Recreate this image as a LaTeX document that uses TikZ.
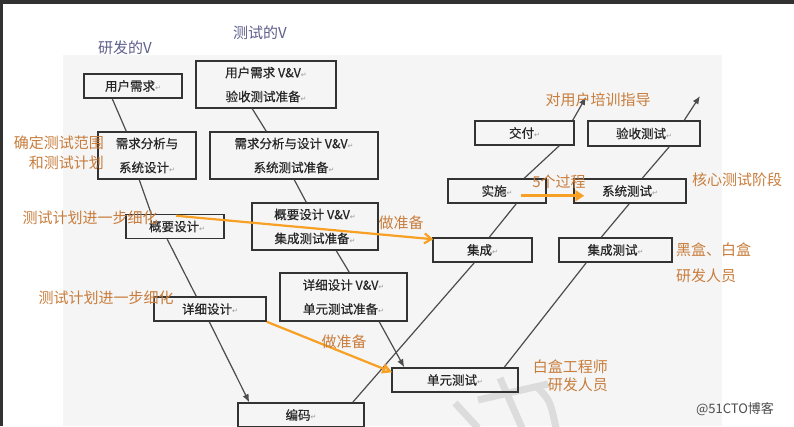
\documentclass[tikz,border=0pt]{standalone}
\usepackage{fontspec}
\setmainfont{Noto Sans CJK SC}
\newfontfamily\boxfont[FakeBold=0.5]{Noto Sans CJK SC}
\newfontfamily\symfont{DejaVu Sans}
\usetikzlibrary{calc,arrows.meta}
\definecolor{lbl}{RGB}{200,125,60}
\definecolor{vcol}{RGB}{95,95,140}
\definecolor{arrowor}{RGB}{247,160,35}
\definecolor{panel}{RGB}{245,245,245}
\definecolor{frame}{RGB}{50,50,50}
\definecolor{wmark}{RGB}{220,220,220}
\newcommand\retmark{{\symfont\fontsize{7}{7}\selectfont\color{black!40}↵}}
\begin{document}
\begin{tikzpicture}[x=1pt,y=-1pt,
  box/.style={draw=black!80,line width=1.5pt,inner sep=0pt,minimum height=24pt,align=center,
    font=\boxfont\fontsize{12.5}{24}\selectfont,text=black!85},
  conn/.style={draw=black!70,line width=1.2pt},
  tip/.style={-{Latex[length=8pt,width=6.5pt]}},
  orng/.style={draw=arrowor,line width=2.2pt},
  lab/.style={text=lbl,font=\fontsize{15}{20}\selectfont,inner sep=0pt},
  vlab/.style={text=vcol,font=\fontsize{15}{20}\selectfont,inner sep=0pt},
  wm/.style={draw=wmark,line width=7pt}]
\useasboundingbox (0,0) rectangle (794,426);
\fill[white] (0,0) rectangle (794,426);
\fill[panel] (63,55) rectangle (722,426);
\fill[frame] (0,0) rectangle (794,4);
\fill[frame] (0,0) rectangle (3,426);
% watermark strokes
\draw[wm] (455,403) -- (478,428);
\draw[wm] (500,378) -- (522,428);
\draw[wm] (478,400) -- (548,384);
\draw[wm] (536,386) .. controls (550,400) .. (556,428);

% boxes: development V
\node[box,minimum width=98pt] (b1) at (133,86) {用户需求\retmark};
\node[box,minimum width=98pt,minimum height=47pt] (b2) at (147,155.5) {需求分析与\\系统设计\retmark};
\node[box,minimum width=98pt] (b3) at (175,226.5) {\hspace*{4pt}概要设计\retmark};
\node[box,minimum width=112pt] (b4) at (210,309) {详细设计\retmark};
\node[box,minimum width=126pt] (b5) at (301,415) {编码\retmark};
% boxes: test V
\node[box,minimum width=140pt,minimum height=47pt] (t1) at (266,84.5) {用户需求 V\&V\retmark\\验收测试准备\retmark};
\node[box,minimum width=168pt,minimum height=47pt] (t2) at (294,155.5) {需求分析与设计 V\&V\retmark\\系统测试准备\retmark};
\node[box,minimum width=126pt,minimum height=47pt] (t3) at (315,226.5) {概要设计 V\&V\retmark\\集成测试准备\retmark};
\node[box,minimum width=127pt,minimum height=48pt] (t4) at (343.5,297) {详细设计 V\&V\retmark\\单元测试准备\retmark};
% right side
\node[box,minimum width=126pt] (d1) at (455,380) {单元测试\retmark};
\node[box,minimum width=99pt] (d2) at (482.5,250) {集成\retmark};
\node[box,minimum width=113pt] (d3) at (615.5,250) {集成测试\retmark};
\node[box,minimum width=98pt] (d4) at (497,191) {实施\retmark};
\node[box,minimum width=112pt] (d5) at (630,191) {系统测试\retmark};
\node[box,minimum width=99pt] (d6) at (524.5,133) {交付\retmark};
\node[box,minimum width=112pt,minimum height=25pt] (d7) at (644,133.5) {验收测试\retmark};

\coordinate (tipA) at (586,97);
\coordinate (tipB) at (700,96);

% connectors, development V
\draw[conn] ($(b1.south west)+(29,0)$) -- ($(b2.north west)+(29,0)$);
\draw[conn] ($(b2.south west)+(42,0)$) -- ($(b3.north west)+(26,0)$);
\draw[conn] ($(b3.south west)+(42,0)$) -- ($(b4.north west)+(43,0)$);
\draw[conn,tip] ($(b4.south west)+(56,0)$) -- ($(b5.north west)+(12,0)$);
% test V left
\draw[conn] ($(t1.south west)+(57,0)$) -- ($(t2.north west)+(57,0)$);
\draw[conn] ($(t2.south west)+(85,0)$) -- ($(t3.north west)+(55,0)$);
\draw[conn] ($(t3.south west)+(85,0)$) -- ($(t4.north west)+(70,0)$);
\draw[conn,tip] ($(t4.south west)+(100,0)$) -- ($(d1.north west)+(13,0)$);
% development V right
\draw[conn] ($(b5.north east)+(-12,0)$) -- ($(d2.south west)+(42,0)$);
\draw[conn] ($(d2.north west)+(57,0)$) -- ($(d4.south west)+(69,0)$);
\draw[conn] ($(d4.north west)+(77,0)$) -- ($(d6.south west)+(85,0)$);
\draw[conn,tip] ($(d6.north east)+(-2,0)$) -- (tipA);
% test V right
\draw[conn] ($(d1.north west)+(113,0)$) -- ($(d3.south west)+(28,0)$);
\draw[conn] ($(d3.north west)+(43,0)$) -- ($(d5.south west)+(56,0)$);
\draw[conn] ($(d5.north west)+(69,0)$) -- ($(d7.south west)+(82,0)$);
\draw[conn,tip] ($(d7.north west)+(97,0)$) -- (tipB);

% orange arrows
\draw[orng,-{Straight Barb[length=7pt,width=10pt]}] ($(b3.north west)+(51,2)$) -- ($(d2.north west)+(1,2)$);
\draw[orng,-{Triangle[length=10pt,width=10pt,fill=arrowor!60]}] (b4.south east) -- ($(d1.north west)+(1,5)$);
\draw[orng,line width=3.2pt,-{Triangle[length=9pt,width=11pt]}] ($(d4.south west)+(74,-8)$) -- ($(d5.south west)+(11,-8)$);

% labels
\node[vlab] (v1) at (125,48) {研发的V};
\node[vlab] (v2) at (260,33) {测试的V};
\node[lab,align=right,anchor=east] (l1) at (104,153) {确定测试范围\\和测试计划};
\node[lab] (l2) at (90,218) {测试计划进一步细化};
\node[lab] (l3) at (106,298) {测试计划进一步细化};
\node[lab] (l4) at (401,223) {做准备};
\node[lab] (l5) at (344,342) {做准备};
\node[lab] (l6) at (598,100) {对用户培训指导};
\node[lab] (l7) at (559,182) {5个过程};
\node[lab] (l8) at (737,180) {核心测试阶段};
\node[lab,align=left,anchor=west,font=\fontsize{15}{26}\selectfont] (l9) at (676,263) {黑盒、白盒\\研发人员};
\node[lab,align=right,anchor=east,font=\fontsize{15}{18}\selectfont] (l10) at (608,376) {白盒工程师\\研发人员};
\node[text=black!70,font=\fontsize{13}{13}\selectfont,inner sep=0pt] (wmk) at (735,409) {@51CTO博客};
\end{tikzpicture}
\end{document}
